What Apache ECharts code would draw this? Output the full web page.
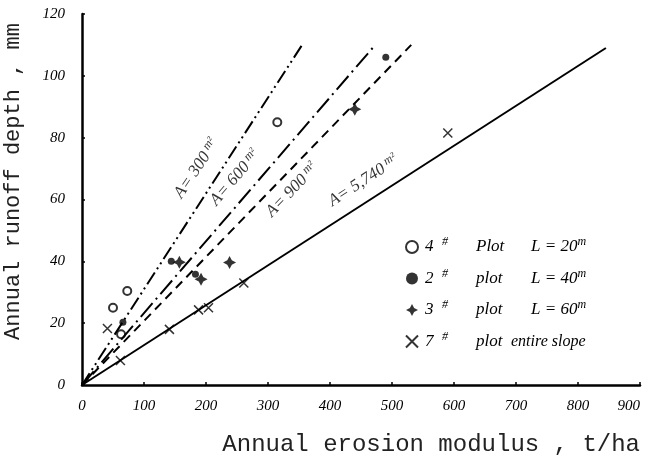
<!DOCTYPE html>
<html>
<head>
<meta charset="utf-8" />
<title>runoff vs erosion</title>
<script src="https://cdn.jsdelivr.net/npm/echarts@6/dist/echarts.min.js"></script>
<style>
  html, body { margin: 0; padding: 0; background: #fff; }
  #main { width: 645px; height: 460px; }
</style>
</head>
<body>
<div id="main"></div>
<script type="text/javascript">
// axis ticks
var xTicks = [0, 100, 200, 300, 400, 500, 600, 700, 800, 900];
var yTicks = [0, 20, 40, 60, 80, 100, 120];

// measured points  [erosion t/ha, runoff mm]
var plot4 = [[50, 25], [73, 30.4], [63, 16.4], [315, 85]];
var plot2 = [[66, 20.3], [144, 40], [183, 35.8], [490, 106]];
var plot3 = [[157, 39.7], [192, 34.2], [238, 39.6], [440, 89.2]];
var plot7 = [[41, 18.3], [62, 7.9], [141, 18], [188, 24.3], [204, 25], [261, 33], [590, 81.5]];

// fitted lines through origin
var line300 = [[0, 0], [355, 110]];
var line600 = [[0, 0], [473, 110]];
var line900 = [[0, 0], [531, 110]];
var line5740 = [[0, 0], [845, 109]];

// line labels: [x, y, text, angle]
var lineLabels = [
  [185, 70, 'A= 300', 56],
  [247, 67, 'A= 600', 49],
  [339, 63, 'A= 900', 46],
  [454, 66, 'A= 5,740', 33]
];

var hand = '"Liberation Serif", serif';
var mono = '"Liberation Mono", "DejaVu Sans Mono", monospace';

var starPath = 'path://M0,-10L3.5,-3.5L10,0L3.5,3.5L0,10L-3.5,3.5L-10,0L-3.5,-3.5Z';
var crossPath = 'path://M0,0L10,10M10,0L0,10';

var legendText = {
  '4# Plot': '{d|4}{h|#}{p|Plot}{l|L = 20}{m|m}',
  '2# plot': '{d|2}{h|#}{p|plot}{l|L = 40}{m|m}',
  '3# plot': '{d|3}{h|#}{p|plot}{l|L = 60}{m|m}',
  '7# plot': '{d|7}{h|#}{q|plot}{e|entire slope}'
};

var myChart = echarts.init(document.getElementById('main'));

function fitLine(data, dash) {
  return {
    type: 'line',
    data: data,
    symbol: 'none',
    silent: true,
    lineStyle: { color: '#000', width: 2, type: dash }
  };
}

var handText = { fontFamily: hand, fontStyle: 'italic', fontSize: 17, color: '#000' };
var supText = { fontFamily: hand, fontStyle: 'italic', fontSize: 12, color: '#000', verticalAlign: 'top', padding: [0, 0, 10, 0] };

myChart.setOption({
  animation: false,
  backgroundColor: '#fff',
  grid: { left: 82, right: 5, top: 14, bottom: 75, containLabel: false, outerBoundsMode: 'none' },
  xAxis: {
    type: 'value',
    min: 0, max: 900, interval: 100,
    name: 'Annual erosion modulus , t/ha',
    nameLocation: 'end',
    nameGap: 0,
    nameTextStyle: {
      fontFamily: mono, fontSize: 24, color: '#222',
      align: 'right', verticalAlign: 'top', padding: [48, 0, 0, 0]
    },
    axisLine: { lineStyle: { color: '#000', width: 2.5 } },
    axisTick: { inside: true, length: 3, lineStyle: { color: '#000', width: 1.5 } },
    axisLabel: {
      margin: 14, alignMaxLabel: 'right',
      fontFamily: hand, fontStyle: 'italic', fontSize: 15, color: '#000',
      formatter: function (v) { return xTicks.indexOf(v) >= 0 ? String(v) : ''; }
    },
    splitLine: { show: false }
  },
  yAxis: {
    type: 'value',
    min: 0, max: 120, interval: 20,
    name: 'Annual runoff depth , mm',
    nameLocation: 'middle',
    nameGap: 58,
    nameTextStyle: {
      fontFamily: mono, fontSize: 22, color: '#222',
      padding: [0, 0, 0, 36]
    },
    axisLine: { lineStyle: { color: '#000', width: 2.5 } },
    axisTick: { inside: true, length: 3, lineStyle: { color: '#000', width: 1.5 } },
    axisLabel: {
      margin: 17,
      fontFamily: hand, fontStyle: 'italic', fontSize: 15, color: '#000',
      formatter: function (v) { return yTicks.indexOf(v) >= 0 ? String(v) : ''; }
    },
    splitLine: { show: false }
  },
  legend: {
    orient: 'vertical',
    left: 400, top: 231,
    itemGap: 12,
    itemWidth: 16, itemHeight: 12,
    data: [
      { name: '4# Plot', icon: 'emptyCircle' },
      { name: '2# plot', icon: 'circle' },
      { name: '3# plot', icon: starPath },
      { name: '7# plot', icon: crossPath }
    ],
    formatter: function (name) { return legendText[name]; },
    textStyle: {
      rich: {
        d: Object.assign({}, handText, { width: 12 }),
        h: Object.assign({}, supText, { width: 34, padding: [0, 0, 10, 5] }),
        p: Object.assign({}, handText, { width: 55 }),
        q: Object.assign({}, handText, { width: 35 }),
        l: handText,
        e: Object.assign({}, handText, { fontSize: 16 }),
        m: supText
      }
    }
  },
  series: [
    fitLine(line300, [14, 4, 2, 4, 2, 4]),
    fitLine(line600, [18, 5, 2, 5]),
    fitLine(line900, [9, 6]),
    fitLine(line5740, 'solid'),
    {
      name: '4# Plot', type: 'scatter', data: plot4,
      symbol: 'emptyCircle', symbolSize: 8,
      itemStyle: { color: '#000', borderColor: '#000', borderWidth: 1.8 }
    },
    {
      name: '2# plot', type: 'scatter', data: plot2,
      symbol: 'circle', symbolSize: 7,
      itemStyle: { color: '#000' }
    },
    {
      name: '3# plot', type: 'scatter', data: plot3,
      symbol: starPath, symbolSize: 13,
      itemStyle: { color: '#000' }
    },
    {
      name: '7# plot', type: 'scatter', data: plot7,
      symbol: crossPath, symbolSize: 9,
      itemStyle: { color: 'rgba(0,0,0,0)', borderColor: '#000', borderWidth: 1.5 }
    },
    {
      type: 'scatter',
      silent: true,
      symbolSize: 0,
      data: lineLabels.map(function (d) {
        return {
          value: [d[0], d[1]],
          label: {
            show: true, position: 'inside', rotate: d[3],
            formatter: '{n|' + d[2] + '} {s|m²}'
          }
        };
      }),
      label: {
        rich: {
          n: { fontFamily: hand, fontStyle: 'italic', fontSize: 17, color: '#000' },
          s: { fontFamily: hand, fontStyle: 'italic', fontSize: 12, color: '#000', padding: [0, 0, 8, 0] }
        }
      }
    }
  ]
});
</script>
</body>
</html>
